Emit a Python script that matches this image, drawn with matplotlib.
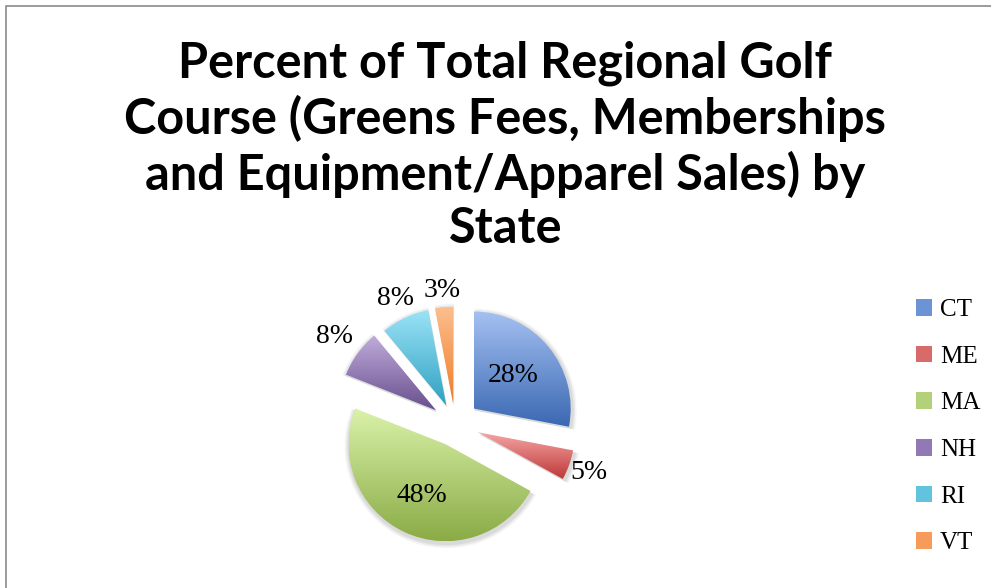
import matplotlib.pyplot as plt
import numpy as np
from matplotlib.colors import LinearSegmentedColormap
from matplotlib.patches import Rectangle, Wedge

# data
states = ["CT", "ME", "MA", "NH", "RI", "VT"]
shares = [28, 5, 48, 8, 8, 3]
title = "Percent of Total Regional Golf\nCourse (Greens Fees, Memberships\nand Equipment/Apparel Sales) by\nState"

# gradient colours, light (top) -> dark (bottom)
light = ["#a5c1f2", "#f4a6a5", "#daf2aa", "#c0acdb", "#9ae3f7", "#fcbf8e"]
dark = ["#3a68b2", "#be3837", "#8aab45", "#684f8d", "#2fa0c1", "#ef7b28"]
mid = ["#6b93d6", "#d86a69", "#b3d07a", "#9279b3", "#62c3de", "#f69c5a"]

W, H = 991, 588
fig = plt.figure(figsize=(W / 100, H / 100), dpi=100)
ax = fig.add_axes([0, 0, 1, 1])

r = 97
cx, cy = 455, H - 424
explode = [0.25, 0.25, 0.23, 0.24, 0.21, 0.21]
label_dist = [0.53, 1.22, 0.58, 1.29, 1.22, 1.17]

wedges, _ = ax.pie(shares, explode=[e * r for e in explode], radius=r,
                   center=(cx, cy), startangle=90, counterclock=False,
                   frame=True)

grad = np.linspace(0, 1, 256).reshape(-1, 1)
for w, lo, hi in zip(wedges, light, dark):
    w.set_facecolor("none")
    w.set_edgecolor("none")
    # soft shadow
    for k, a in [(5, 0.04), (3.5, 0.05), (2, 0.06)]:
        sh = Wedge((w.center[0] + 1, w.center[1] - 2), r + k, w.theta1, w.theta2,
                   facecolor="black", edgecolor="none", alpha=a, zorder=1)
        ax.add_patch(sh)
    x0, y0, x1, y1 = w.get_path().get_extents().extents
    cmap = LinearSegmentedColormap.from_list("g", [hi, lo])
    im = ax.imshow(grad, cmap=cmap, extent=(x0, x1, y0, y1), origin="lower",
                   aspect="auto", zorder=2, interpolation="bilinear")
    im.set_clip_path(w)

for w, s, d in zip(wedges, shares, label_dist):
    th = np.deg2rad((w.theta1 + w.theta2) / 2)
    x = w.center[0] + d * r * np.cos(th)
    y = w.center[1] + d * r * np.sin(th)
    ax.text(x, y, f"{s}%", ha="center", va="center", fontsize=20,
            family="Liberation Serif", zorder=5)

handles = [Rectangle((0, 0), 1, 1, facecolor=c, edgecolor="none") for c in mid]
ax.legend(handles, states, loc="upper left", bbox_to_anchor=(916 / W, 1 - 299 / H),
          frameon=False, prop={"family": "Liberation Serif", "size": 18},
          handlelength=0.65, handleheight=0.65, handletextpad=0.3,
          labelspacing=0.98, borderpad=0, borderaxespad=0)

fig.text(0.51, 1 - 40 / H, title, ha="center", va="top", fontsize=35,
         weight="bold", family="Lato", linespacing=1.23)

ax.add_patch(Rectangle((6, -20), W + 20, H - 6 + 20, facecolor="none",
                       edgecolor="#8a8a8a", lw=1.2, zorder=0))

ax.set_xlim(0, W)
ax.set_ylim(0, H)
ax.axis("off")

fig.savefig("out.png", dpi=100)
